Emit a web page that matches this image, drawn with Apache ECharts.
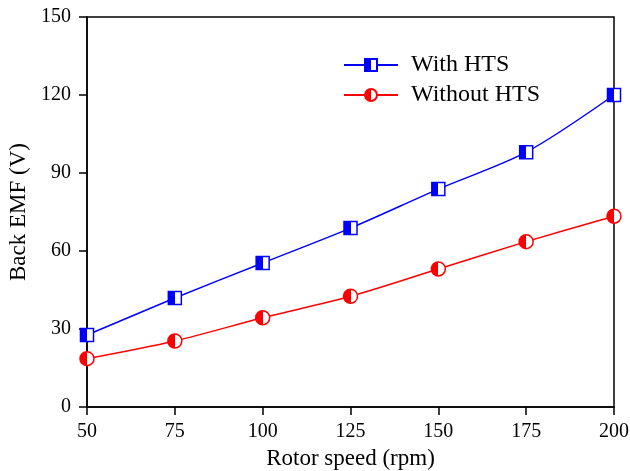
<!DOCTYPE html>
<html>
<head>
<meta charset="utf-8">
<script src="https://cdn.jsdelivr.net/npm/echarts@6/dist/echarts.min.js"></script>
<style>
html,body{margin:0;padding:0;background:#fff;}
#chart{width:630px;height:471px;}
</style>
</head>
<body>
<div id="chart"></div>
<script>
var speeds = [50, 75, 100, 125, 150, 175, 200];
var withHTS = [27.7, 41.9, 55.4, 68.8, 83.8, 98.0, 120.0];
var withoutHTS = [18.6, 25.4, 34.3, 42.6, 53.1, 63.6, 73.4];
var seriesNames = ['With HTS', 'Without HTS'];

function pairs(vals){
    var out = [];
    for (var i = 0; i < speeds.length; i++) {
        out.push([speeds[i], vals[i]]);
    }
    return out;
}

// left half solid, right half white
function halfFill(c){
    return new echarts.graphic.LinearGradient(0, 0, 1, 0, [
        {offset: 0, color: c},
        {offset: 0.5, color: c},
        {offset: 0.5, color: '#fff'},
        {offset: 1, color: '#fff'}
    ]);
}

var font = 'Liberation Serif, Times New Roman, serif';
var myChart = echarts.init(document.getElementById('chart'));
var option = {
    animation: false,
    grid: {
        left: 87, right: 16, top: 17, bottom: 64,
        containLabel: false, outerBoundsMode: 'none',
        show: true, borderColor: '#000', borderWidth: 1.5
    },
    legend: {
        orient: 'vertical',
        left: 338,
        top: 48,
        itemWidth: 54,
        itemHeight: 15,
        itemGap: 6,
        textStyle: {fontFamily: font, fontSize: 24, color: '#000', padding: [0, 0, 0, 8]},
        data: seriesNames
    },
    xAxis: {
        type: 'value',
        min: 50, max: 200, interval: 25,
        name: 'Rotor speed (rpm)',
        nameLocation: 'middle',
        nameGap: 40,
        nameTextStyle: {fontFamily: font, fontSize: 23, color: '#000'},
        axisLine: {lineStyle: {color: '#000', width: 1.5}},
        axisTick: {length: 8, lineStyle: {color: '#000', width: 1.5}},
        axisLabel: {fontFamily: font, fontSize: 20, color: '#000', margin: 15},
        splitLine: {show: false}
    },
    yAxis: {
        type: 'value',
        min: 0, max: 150, interval: 30,
        name: 'Back EMF (V)',
        nameLocation: 'middle',
        nameGap: 53,
        nameTextStyle: {fontFamily: font, fontSize: 23, color: '#000'},
        axisLine: {lineStyle: {color: '#000', width: 1.5}},
        axisTick: {length: 8, lineStyle: {color: '#000', width: 1.5}},
        axisLabel: {fontFamily: font, fontSize: 20, color: '#000', margin: 16},
        splitLine: {show: false}
    },
    series: [
        {
            name: seriesNames[0],
            type: 'line',
            smooth: 0.3,
            symbol: 'rect',
            symbolSize: 13,
            lineStyle: {color: '#0000ff', width: 1.5},
            itemStyle: {color: halfFill('#0000ff'), borderColor: '#0000ff', borderWidth: 1.5},
            data: pairs(withHTS)
        },
        {
            name: seriesNames[1],
            type: 'line',
            smooth: 0.3,
            symbol: 'circle',
            symbolSize: 14,
            lineStyle: {color: '#ff0000', width: 1.5},
            itemStyle: {color: halfFill('#ff0000'), borderColor: '#ff0000', borderWidth: 1.5},
            data: pairs(withoutHTS)
        }
    ]
};
myChart.setOption(option);
</script>
</body>
</html>
